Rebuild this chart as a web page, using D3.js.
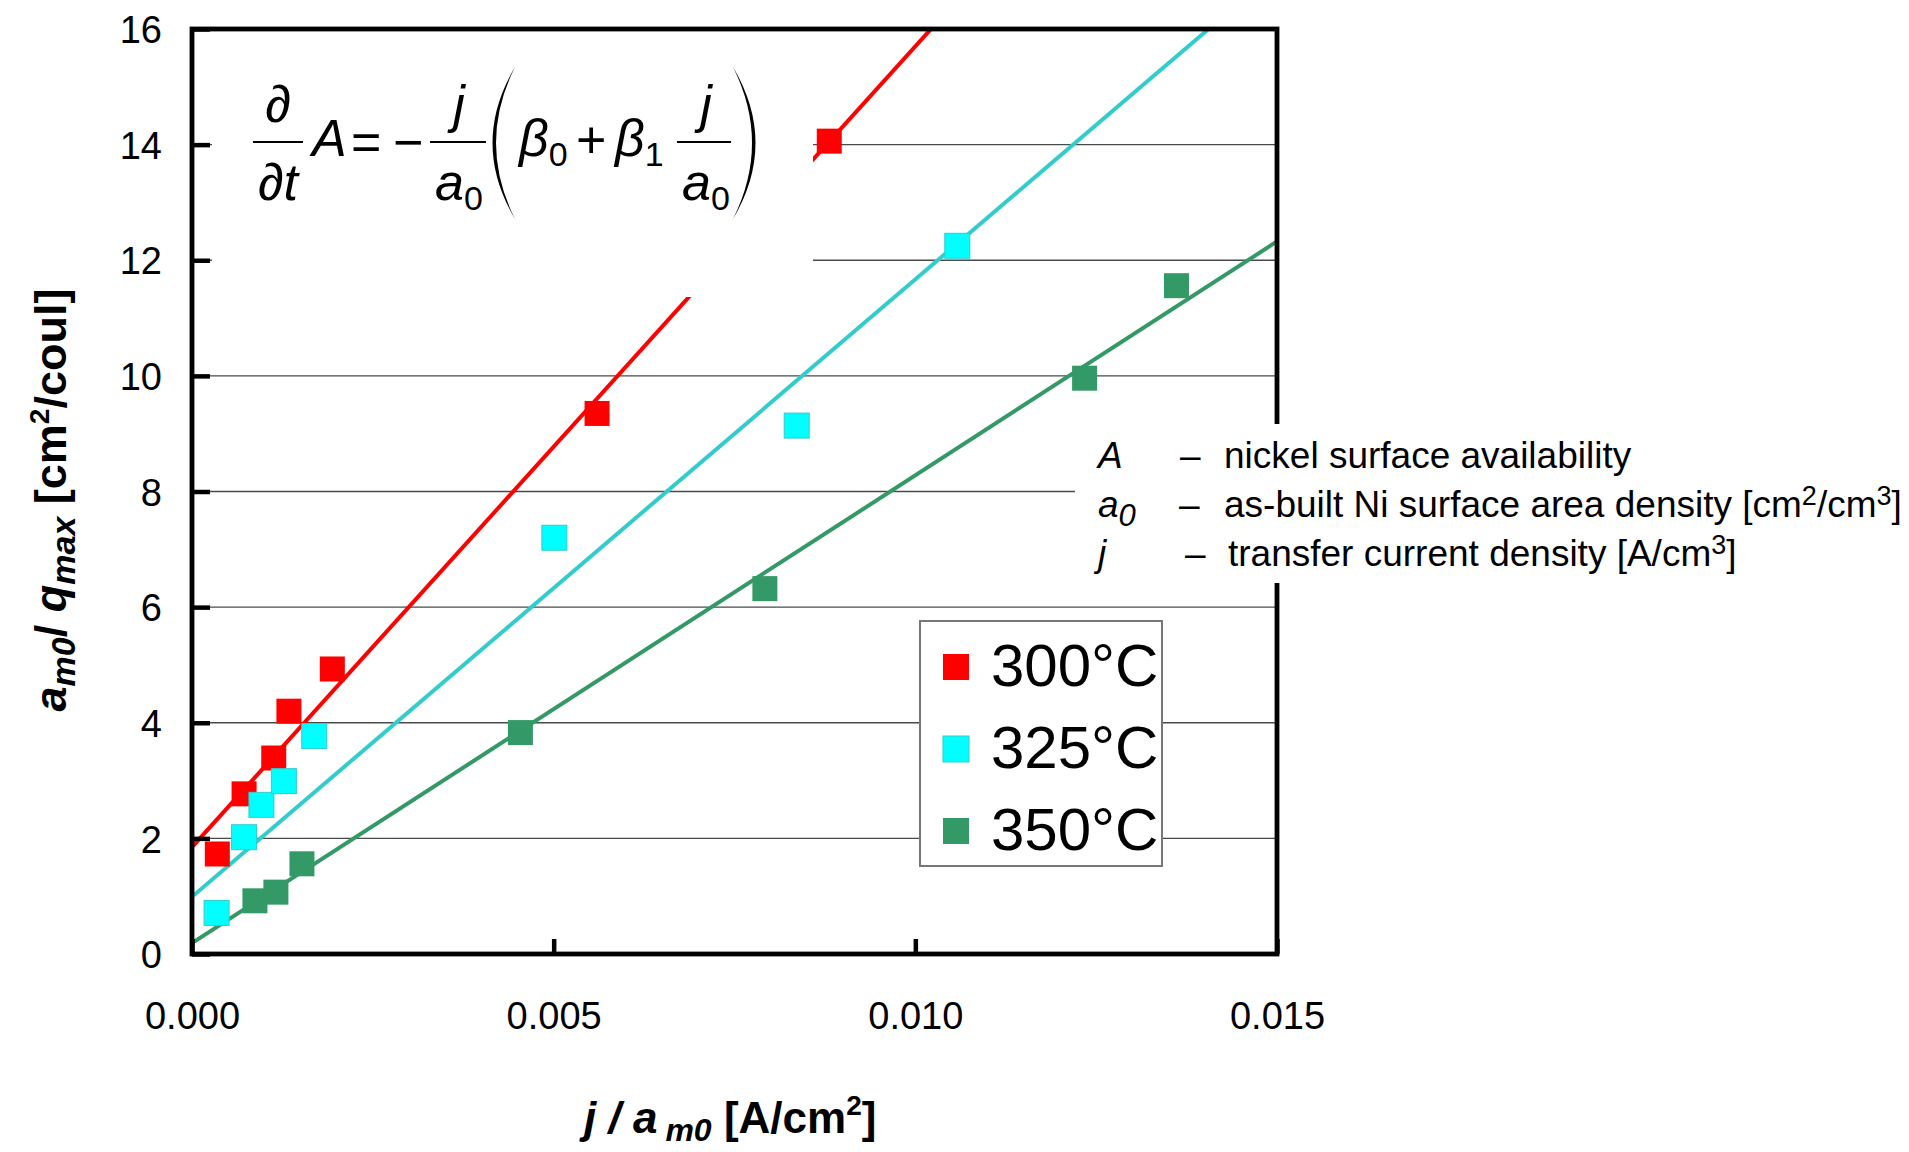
<!DOCTYPE html>
<html>
<head>
<meta charset="utf-8">
<script src="https://cdn.jsdelivr.net/npm/d3@7"></script>
<style>
  html, body { margin: 0; padding: 0; background: #fff; }
  svg { display: block; font-family: "Liberation Sans", Arial, sans-serif; }
</style>
</head>
<body>
<svg id="chart" width="1909" height="1152"></svg>
<script>
// Measured points: x = j/a_m0 [A/cm2], y = a_m0/q_max [cm2/coul]
const series = ["300°C", "325°C", "350°C"];
const x300 = [0.00035, 0.00072, 0.00113, 0.00134, 0.00194, 0.00560, 0.00881];
const y300 = [1.73, 2.77, 3.39, 4.20, 4.93, 9.35, 14.06];
const x325 = [0.00034, 0.00072, 0.00096, 0.00127, 0.00169, 0.00501, 0.00836, 0.01058];
const y325 = [0.71, 2.02, 2.58, 2.99, 3.77, 7.20, 9.14, 12.25];
const x350 = [0.00087, 0.00116, 0.00152, 0.00454, 0.00792, 0.01234, 0.01361];
const y350 = [0.92, 1.07, 1.56, 3.83, 6.32, 9.96, 11.56];

// Linear fits y = intercept + slope * x
const fitIntercept = [1.85, 0.99, 0.19];
const fitSlope = [1385, 1068, 809];

const xTicks = [0, 0.005, 0.010, 0.015];
const yTicks = [0, 2, 4, 6, 8, 10, 12, 14, 16];

const markerColor = ["#ff0000", "#00ffff", "#339966"];
const lineColor = ["#ff0000", "#33cccc", "#339966"];

const svg = d3.select("#chart");
const plot = { left: 192, right: 1277, top: 29, bottom: 954 };

const x = d3.scaleLinear().domain([0, 0.015]).range([plot.left, plot.right]);
const y = d3.scaleLinear().domain([0, 16]).range([plot.bottom, plot.top]);

svg.append("defs").append("clipPath").attr("id", "plotClip")
  .append("rect")
  .attr("x", plot.left).attr("y", plot.top)
  .attr("width", plot.right - plot.left).attr("height", plot.bottom - plot.top);

// horizontal grid lines
svg.append("g").selectAll("line")
  .data(yTicks.filter(v => v > 0 && v < 16))
  .join("line")
  .attr("x1", plot.left).attr("x2", plot.right)
  .attr("y1", d => y(d)).attr("y2", d => y(d))
  .attr("stroke", "#4a4a4a").attr("stroke-width", 1.4);

// fitted lines
const fitG = svg.append("g").attr("clip-path", "url(#plotClip)");
series.forEach((s, i) => {
  const f = v => fitIntercept[i] + fitSlope[i] * v;
  fitG.append("line")
    .attr("x1", x(0)).attr("y1", y(f(0)))
    .attr("x2", x(0.015)).attr("y2", y(f(0.015)))
    .attr("stroke", lineColor[i]).attr("stroke-width", 4);
});

// frame and axes
const yAxis = d3.axisLeft(y).tickValues(yTicks).tickSize(-18).tickPadding(30)
  .tickFormat(d3.format("d"));
const yg = svg.append("g").attr("transform", `translate(${plot.left},0)`).call(yAxis);
const xAxis = d3.axisBottom(x).tickValues(xTicks).tickSize(-15).tickPadding(48)
  .tickFormat(d3.format(".3f"));
const xg = svg.append("g").attr("transform", `translate(0,${plot.bottom})`).call(xAxis);
[yg, xg].forEach(g => {
  g.select(".domain").remove();
  g.selectAll(".tick line").attr("stroke", "#000").attr("stroke-width", 4.5);
  g.selectAll(".tick text").attr("font-size", 38).attr("fill", "#000")
    .attr("font-family", "'Liberation Sans', Arial, sans-serif");
});
yg.selectAll(".tick text").attr("dy", "0.36em");

svg.append("rect")
  .attr("x", plot.left).attr("y", plot.top)
  .attr("width", plot.right - plot.left).attr("height", plot.bottom - plot.top)
  .attr("fill", "none").attr("stroke", "#000").attr("stroke-width", 4.8);

// white panels behind the annotations
svg.append("rect").attr("x", 212).attr("y", 36).attr("width", 601).attr("height", 261).attr("fill", "#fff");
svg.append("rect").attr("x", 1075).attr("y", 424).attr("width", 834).attr("height", 159).attr("fill", "#fff");

// data markers
const pts = [
  x300.map((v, k) => ({ x: v, y: y300[k], s: 0 })),
  x325.map((v, k) => ({ x: v, y: y325[k], s: 1 })),
  x350.map((v, k) => ({ x: v, y: y350[k], s: 2 }))
].flat();
const ms = 25;
svg.append("g").selectAll("rect")
  .data(pts)
  .join("rect")
  .attr("x", d => x(d.x) - ms / 2).attr("y", d => y(d.y) - ms / 2)
  .attr("width", ms).attr("height", ms)
  .attr("fill", d => markerColor[d.s])
  .attr("stroke", d => d.s === 1 ? "#33cccc" : "none").attr("stroke-width", 1);

// legend
const lg = svg.append("g");
lg.append("rect").attr("x", 920).attr("y", 621).attr("width", 242).attr("height", 245)
  .attr("fill", "#fff").attr("stroke", "#777").attr("stroke-width", 2);
series.forEach((s, i) => {
  const cy = 667 + i * 82;
  lg.append("rect").attr("x", 956 - 13).attr("y", cy - 13).attr("width", 26).attr("height", 26)
    .attr("fill", markerColor[i]).attr("stroke", i === 1 ? "#33cccc" : "none");
  lg.append("text").attr("x", 991).attr("y", cy + 19).attr("font-size", 60).text(s);
});

// equation:  ∂A/∂t = −(j/a0)(β0 + β1 j/a0)
const eq = svg.append("g").attr("font-size", 52).attr("font-style", "italic").attr("fill", "#000");
function frac(cx, x1, x2, num, den) {
  eq.append("line").attr("x1", x1).attr("x2", x2).attr("y1", 142).attr("y2", 142)
    .attr("stroke", "#000").attr("stroke-width", 2.2);
  const n = eq.append("text").attr("x", cx).attr("y", 122).attr("text-anchor", "middle");
  num(n);
  const d = eq.append("text").attr("x", cx).attr("y", 200).attr("text-anchor", "middle");
  den(d);
}
frac(278, 253, 303, t => t.text("∂"), t => t.text("∂t"));
eq.append("text").attr("x", 312).attr("y", 156).text("A");
eq.append("text").attr("x", 351).attr("y", 160).attr("font-style", "normal").text("=");
eq.append("text").attr("x", 393).attr("y", 160).attr("font-style", "normal").text("−");
const a0 = t => { t.append("tspan").text("a"); t.append("tspan").attr("font-size", 34).attr("font-style", "normal").attr("dy", 10).text("0"); };
frac(459, 430, 486, t => t.text("j"), a0);
eq.append("path").attr("d", "M515,67 Q470,143 515,219 Q477,143 515,67 Z").attr("fill", "#000");
const b0 = eq.append("text").attr("x", 519).attr("y", 156);
b0.append("tspan").text("β");
b0.append("tspan").attr("font-size", 34).attr("font-style", "normal").attr("dy", 10).text("0");
eq.append("text").attr("x", 576).attr("y", 158).attr("font-style", "normal").text("+");
const b1 = eq.append("text").attr("x", 615).attr("y", 156);
b1.append("tspan").text("β");
b1.append("tspan").attr("font-size", 34).attr("font-style", "normal").attr("dy", 10).text("1");
frac(706, 677, 731, t => t.text("j"), a0);
eq.append("path").attr("d", "M733,67 Q778,143 733,219 Q771,143 733,67 Z").attr("fill", "#000");

// symbol descriptions
const desc = svg.append("g").attr("font-size", 37).attr("fill", "#000");
const rows = [
  { sym: "A", sub: null, base: 468, dashX: 1180, textX: 1224, body: [["nickel surface availability"]] },
  { sym: "a", sub: "0", base: 517, dashX: 1179, textX: 1224,
    body: [["as-built Ni surface area density [cm"], ["2", "sup"], ["/cm"], ["3", "sup"], ["]"]] },
  { sym: "j", sub: null, base: 566, dashX: 1185, textX: 1228,
    body: [["transfer current density [A/cm"], ["3", "sup"], ["]"]] }
];
rows.forEach(r => {
  const s = desc.append("text").attr("x", 1098).attr("y", r.base).attr("font-style", "italic");
  s.append("tspan").text(r.sym);
  if (r.sub) s.append("tspan").attr("font-size", 31).attr("dy", 9).text(r.sub);
  desc.append("text").attr("x", r.dashX).attr("y", r.base).text("–");
  const t = desc.append("text").attr("x", r.textX).attr("y", r.base);
  let raised = false;
  r.body.forEach(([str, kind]) => {
    const sp = t.append("tspan").text(str);
    if (kind === "sup") { sp.attr("font-size", 27).attr("dy", raised ? 0 : -12); raised = true; }
    else if (raised) { sp.attr("dy", 12); raised = false; }
  });
});

// axis titles
const xt = svg.append("text").attr("x", 584).attr("y", 1133).attr("font-size", 44).attr("font-weight", "bold");
xt.append("tspan").attr("font-style", "italic").text("j");
xt.append("tspan").attr("font-style", "italic").text(" / ");
xt.append("tspan").attr("font-style", "italic").text("a");
xt.append("tspan").attr("font-style", "italic").attr("font-size", 32).attr("dx", 8).attr("dy", 8).text("m0");
xt.append("tspan").attr("dy", -8).text(" [A/cm");
xt.append("tspan").attr("font-size", 28).attr("dy", -18).text("2");
xt.append("tspan").attr("dy", 18).text("]");

const ytl = svg.append("text").attr("transform", "translate(66,500) rotate(-90)")
  .attr("text-anchor", "middle").attr("font-size", 45).attr("font-weight", "bold");
ytl.append("tspan").attr("font-style", "italic").text("a");
ytl.append("tspan").attr("font-style", "italic").attr("font-size", 34).attr("dy", 9).text("m0");
ytl.append("tspan").attr("dy", -9).text("/ ");
ytl.append("tspan").attr("font-style", "italic").text("q");
ytl.append("tspan").attr("font-style", "italic").attr("font-size", 34).attr("dy", 9).text("max");
ytl.append("tspan").attr("dy", -9).text(" [cm");
ytl.append("tspan").attr("font-size", 28).attr("dy", -17).text("2");
ytl.append("tspan").attr("dy", 17).text("/coul]");
</script>
</body>
</html>
